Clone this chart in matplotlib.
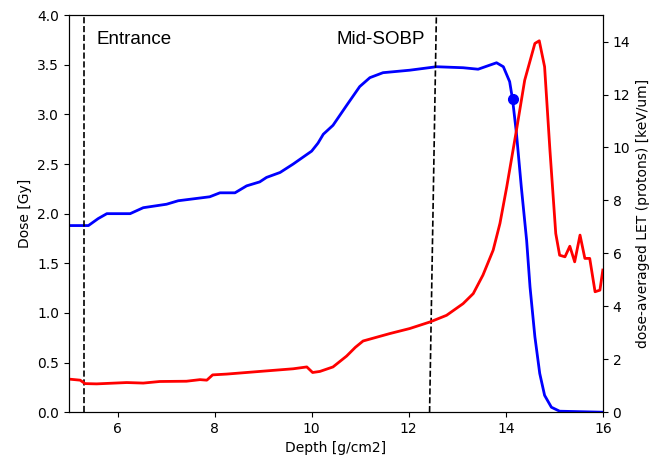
import matplotlib
matplotlib.use('Agg')
import matplotlib.pyplot as plt

# Dose profile (left axis)
depth_dose = [5.0, 5.4, 5.6, 5.78, 6.26, 6.53, 7.01, 7.25, 7.9, 8.11, 8.42, 8.66, 8.93,
              9.07, 9.35, 9.62, 10.0, 10.13, 10.24, 10.44, 10.72, 10.99, 11.2, 11.47,
              12.02, 12.57, 13.12, 13.43, 13.81, 13.95, 14.08, 14.14, 14.22, 14.32,
              14.43, 14.5, 14.6, 14.7, 14.8, 14.94, 15.11, 16.0]
dose = [1.88, 1.88, 1.95, 2.0, 2.0, 2.06, 2.095, 2.13, 2.17, 2.21, 2.21, 2.28, 2.32,
        2.365, 2.415, 2.5, 2.63, 2.71, 2.80, 2.89, 3.09, 3.28, 3.37, 3.42,
        3.445, 3.48, 3.47, 3.455, 3.52, 3.48, 3.33, 3.15, 2.81, 2.27,
        1.73, 1.26, 0.76, 0.39, 0.17, 0.05, 0.01, 0.0]

# LET profile (right axis)
depth_let = [5.0, 5.23, 5.33, 5.57, 6.19, 6.53, 6.87, 7.42, 7.7, 7.84, 7.96, 8.25, 8.93,
             9.62, 9.9, 10.02, 10.17, 10.44, 10.72, 10.9, 11.06, 11.61, 12.02, 12.44,
             12.78, 13.12, 13.33, 13.53, 13.74, 13.88, 14.02, 14.22, 14.39, 14.6, 14.69,
             14.8, 14.91, 15.03, 15.11, 15.22, 15.32, 15.42, 15.53, 15.63, 15.73, 15.84,
             15.94, 16.0]
let = [1.25, 1.21, 1.08, 1.07, 1.12, 1.1, 1.16, 1.17, 1.23, 1.21, 1.41, 1.44, 1.54,
       1.64, 1.71, 1.5, 1.54, 1.71, 2.12, 2.45, 2.69, 2.97, 3.16, 3.41,
       3.66, 4.1, 4.48, 5.18, 6.12, 7.13, 8.51, 10.65, 12.54, 13.93, 14.03,
       13.05, 9.9, 6.75, 5.93, 5.87, 6.27, 5.68, 6.69, 5.81, 5.81, 4.55,
       4.61, 5.37]

marker_depth = 14.14
marker_dose = 3.15

fig = plt.figure(figsize=(6.51, 4.58), dpi=100)
ax = fig.add_axes([0.106, 0.1, 0.82, 0.867])
ax.plot(depth_dose, dose, color='blue', lw=2)
ax.plot([marker_depth], [marker_dose], 'o', color='blue', markersize=7)
ax.plot([5.31, 5.31], [0, 4], 'k--', lw=1.2)
ax.plot([12.43, 12.57], [0, 4], 'k--', lw=1.2)
ax.text(5.56, 3.75, 'Entrance', fontsize=13.5, va='center', family='Liberation Sans')
ax.text(10.52, 3.75, 'Mid-SOBP', fontsize=13.5, va='center', family='Liberation Sans')
ax.set_xlim(5, 16)
ax.set_ylim(0, 4)
ax.set_xlabel('Depth [g/cm2]')
ax.set_ylabel('Dose [Gy]')

ax2 = ax.twinx()
ax2.plot(depth_let, let, color='red', lw=2)
ax2.set_ylim(0, 15)
ax2.set_ylabel('dose-averaged LET (protons) [keV/um]')

fig.savefig('out.png', dpi=100)
